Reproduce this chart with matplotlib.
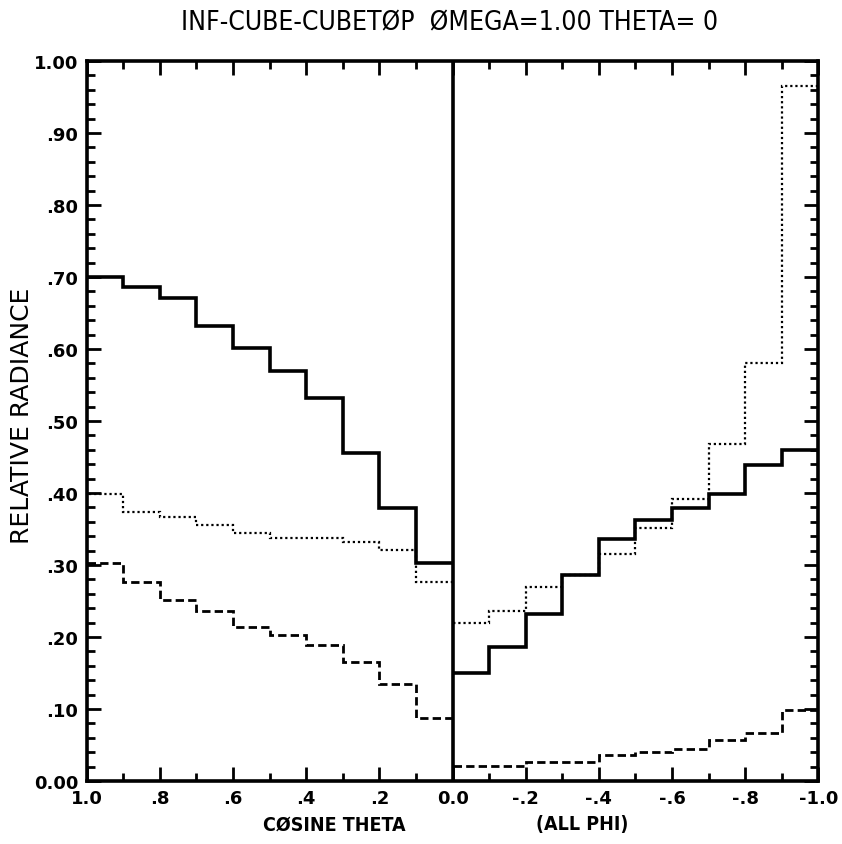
import matplotlib
matplotlib.use("Agg")
import matplotlib.pyplot as plt
from matplotlib.ticker import MultipleLocator
import numpy as np

# bin edges in cosine theta (upward half, then downward half)
edges_up = [1.0, 0.9, 0.8, 0.7, 0.6, 0.5, 0.4, 0.3, 0.2, 0.1, 0.0]
edges_down = [0.0, -0.1, -0.2, -0.3, -0.4, -0.5, -0.6, -0.7, -0.8, -0.9, -1.0]

# relative radiance per bin
solid_up = [0.700, 0.686, 0.671, 0.632, 0.601, 0.569, 0.532, 0.456, 0.379, 0.303]
solid_down = [0.150, 0.186, 0.232, 0.286, 0.336, 0.362, 0.379, 0.399, 0.439, 0.460]
dotted_up = [0.399, 0.373, 0.366, 0.355, 0.345, 0.338, 0.337, 0.332, 0.321, 0.277]
dotted_down = [0.219, 0.236, 0.269, 0.286, 0.315, 0.351, 0.392, 0.468, 0.580, 0.965]
dashed_up = [0.303, 0.277, 0.251, 0.236, 0.214, 0.203, 0.189, 0.165, 0.135, 0.087]
dashed_down = [0.021, 0.021, 0.026, 0.026, 0.036, 0.040, 0.045, 0.057, 0.066, 0.098]

x_ticks = [1.0, 0.8, 0.6, 0.4, 0.2, 0.0, -0.2, -0.4, -0.6, -0.8, -1.0]
x_labels = ["1.0", ".8", ".6", ".4", ".2", "0.0", "-.2", "-.4", "-.6", "-.8", "-1.0"]
y_ticks = [0.0, 0.1, 0.2, 0.3, 0.4, 0.5, 0.6, 0.7, 0.8, 0.9, 1.0]
y_labels = ["0.00", ".10", ".20", ".30", ".40", ".50", ".60", ".70", ".80", ".90", "1.00"]

plt.rcParams["font.family"] = ["DejaVu Sans"]

fig = plt.figure(figsize=(8.42, 8.45), dpi=100)
ax = fig.add_axes([0.103, 0.0746, 0.869, 0.852])

styles = [
    (solid_up, solid_down, dict(color="black", linewidth=2.6, linestyle="-")),
    (dotted_up, dotted_down, dict(color="black", linewidth=1.6, linestyle=(0, (1, 1.3)))),
    (dashed_up, dashed_down, dict(color="black", linewidth=2.0, linestyle=(0, (3, 1.5)))),
]
for up, down, kw in styles:
    # stairs wants increasing edges, so reverse both
    ax.stairs(up[::-1], edges_up[::-1], baseline=None, **kw)
    ax.stairs(down[::-1], edges_down[::-1], baseline=None, **kw)

ax.axvline(0.0, color="black", linewidth=2.6)

ax.set_xlim(1.0, -1.0)
ax.set_ylim(0.0, 1.0)

for s in ax.spines.values():
    s.set_linewidth(2.6)

ax.set_xticks(x_ticks)
ax.set_xticklabels(x_labels, fontsize=13, fontweight="bold")
ax.xaxis.set_minor_locator(MultipleLocator(0.1))
ax.set_yticks(y_ticks)
ax.set_yticklabels(y_labels, fontsize=13, fontweight="bold")
ax.yaxis.set_minor_locator(MultipleLocator(0.02))
ax.tick_params(which="both", direction="in", top=True, right=True, width=2.0)
ax.tick_params(which="major", length=10, pad=6)
ax.tick_params(which="minor", length=6)

fig.text(0.534, 0.972, "INF-CUBE-CUBETØP  ØMEGA=1.00 THETA= 0", ha="center", va="center",
         fontsize=19, fontstretch="condensed")
fig.text(0.397, 0.024, "CØSINE THETA", ha="center", va="center", fontsize=14,
         fontweight="bold", fontstretch="condensed")
fig.text(0.691, 0.024, "(ALL PHI)", ha="center", va="center", fontsize=14,
         fontweight="bold", fontstretch="condensed")
fig.text(0.026, 0.508, "RELATIVE RADIANCE", ha="center", va="center", rotation=90,
         fontsize=18)

fig.savefig("out.png", dpi=100)
